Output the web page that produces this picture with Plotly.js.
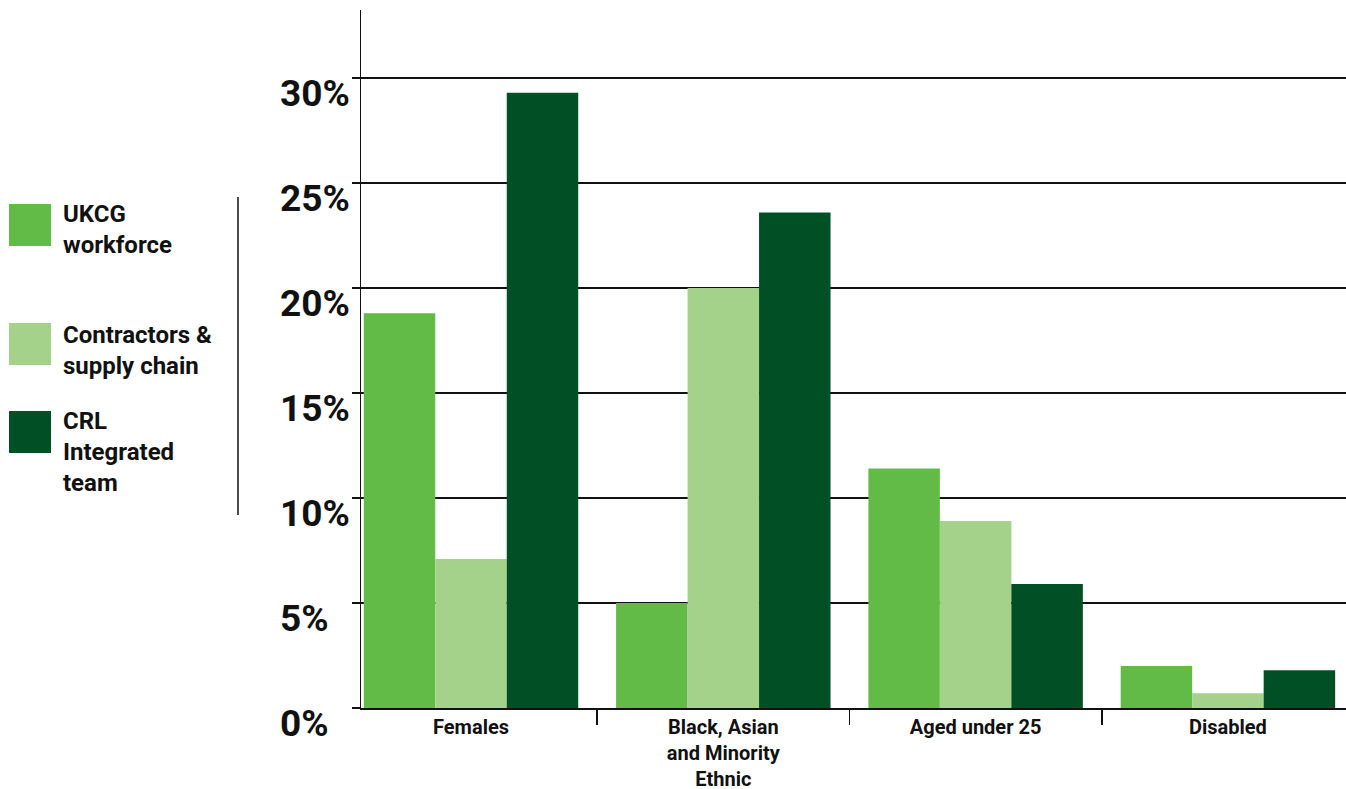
<!DOCTYPE html>
<html>
<head>
<meta charset="utf-8">
<script src="https://cdn.plot.ly/plotly-3.0.1.min.js"></script>
<style>
  html, body { margin: 0; padding: 0; background: #ffffff; }
  #chart { width: 1346px; height: 789px; }
</style>
</head>
<body>
<div id="chart"></div>
<script>
// Workforce diversity by group (% of headcount)
const categories = ["Females", "Black, Asian<br>and Minority<br>Ethnic", "Aged under 25", "Disabled"];
const seriesNames = ["UKCG<br>workforce", "Contractors &<br>supply chain", "CRL<br>Integrated<br>team"];
const ukcgWorkforce = [18.8, 5.0, 11.4, 2.0];
const contractorsSupplyChain = [7.1, 20.0, 8.9, 0.7];
const crlIntegratedTeam = [29.3, 23.6, 5.9, 1.8];
const seriesColors = ["#62bb46", "#a4d28b", "#014f25"];
const yTickValues = [0, 5, 10, 15, 20, 25, 30];
const yTickLabels = ["0%", "5%", "10%", "15%", "20%", "25%", "30%"];

const FONT = "Roboto, 'Open Sans', sans-serif";
const seriesValues = [ukcgWorkforce, contractorsSupplyChain, crlIntegratedTeam];

const traces = seriesValues.map((vals, i) => ({
  type: "bar",
  name: seriesNames[i],
  x: categories,
  y: vals,
  marker: { color: seriesColors[i], line: { width: 0 } },
  hoverinfo: "skip",
  showlegend: false
}));

// Left-aligned y tick labels, sitting just under each gridline
const annotations = yTickValues.map((v, i) => ({
  xref: "paper", yref: "y",
  x: -0.0843, y: v,
  xanchor: "left", yanchor: "middle",
  yshift: -15,
  text: "<b>" + yTickLabels[i] + "</b>",
  showarrow: false,
  font: { family: FONT, size: 37, color: "#111111" }
}));

// Hand-built legend on the left
const legendCenters = [229, 350, 452];
const swatchTops = [204, 323, 411];
const plotTop = 10, plotBottom = 708, plotH = plotBottom - plotTop;
const plotLeft = 361, plotW = 985;
const px = x => (x - plotLeft) / plotW;
const py = y => (plotBottom - y) / plotH;

const shapes = [];
seriesNames.forEach((name, i) => {
  annotations.push({
    xref: "paper", yref: "paper",
    x: px(61), y: py(legendCenters[i]),
    xanchor: "left", yanchor: "middle", align: "left",
    text: "<b>" + name + "</b>",
    showarrow: false,
    font: { family: FONT, size: 24, color: "#111111" }
  });
  shapes.push({
    type: "rect", xref: "paper", yref: "paper",
    x0: px(9), x1: px(51),
    y0: py(swatchTops[i]), y1: py(swatchTops[i] + 42),
    fillcolor: seriesColors[i], line: { width: 0 }
  });
});
shapes.push({
  type: "line", xref: "paper", yref: "paper",
  x0: px(238), x1: px(238), y0: py(197), y1: py(515),
  line: { color: "#111111", width: 1.5 }
});

const layout = {
  width: 1346, height: 789,
  margin: { l: 361, r: 0, t: 10, b: 81, pad: 0 },
  paper_bgcolor: "#ffffff", plot_bgcolor: "#ffffff",
  barmode: "group", bargap: 0.15, bargroupgap: 0,
  font: { family: FONT, color: "#111111" },
  xaxis: {
    type: "category",
    range: [-0.436, 3.468],
    tickvals: categories,
    ticktext: categories.map(c => "<b>" + c + "</b>"),
    showline: true, linecolor: "#111111", linewidth: 1.5,
    tickson: "boundaries",
    ticks: "outside", ticklen: 15, tickcolor: "#111111", tickwidth: 1.5,
    tickfont: { family: FONT, size: 20, color: "#111111" },
    ticklabelstandoff: 0,
    showgrid: false, zeroline: false, fixedrange: true
  },
  yaxis: {
    range: [0, 33.24],
    tickvals: yTickValues,
    showticklabels: false,
    showline: true, linecolor: "#111111", linewidth: 1.5,
    ticks: "outside", ticklen: 8, tickcolor: "#111111", tickwidth: 1.5,
    showgrid: true, gridcolor: "#111111", gridwidth: 1.5,
    zeroline: false, fixedrange: true
  },
  annotations: annotations,
  shapes: shapes,
  showlegend: false
};

Plotly.newPlot("chart", traces, layout, { displayModeBar: false, staticPlot: true });
</script>
</body>
</html>
